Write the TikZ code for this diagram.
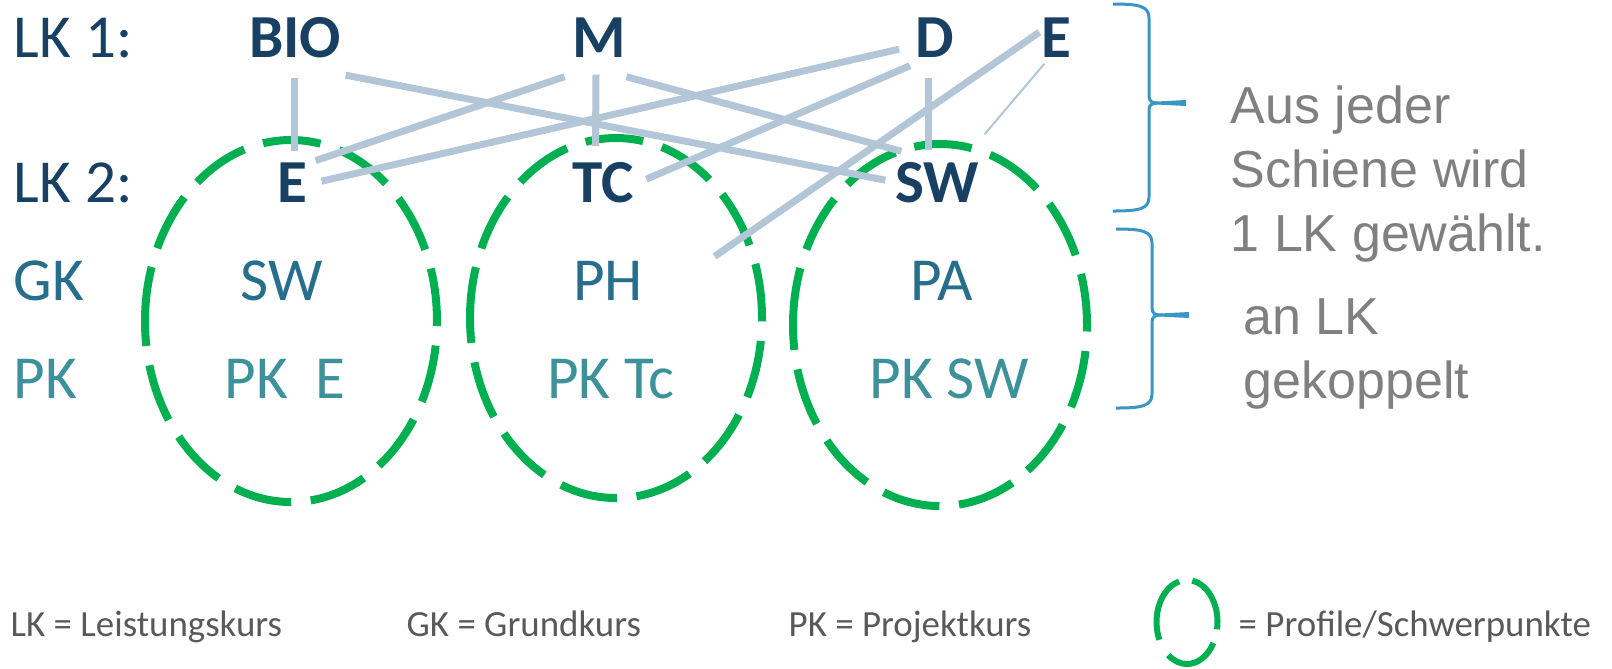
\documentclass[tikz,border=0pt]{standalone}
\usepackage{fontspec}
\setmainfont{Carlito}
\newfontfamily\arialfont{Liberation Sans}
\usetikzlibrary{calc}
\definecolor{navy}{RGB}{23,64,99}
\definecolor{gkblau}{RGB}{39,110,140}
\definecolor{pkblau}{RGB}{61,145,155}
\definecolor{liniengrau}{RGB}{178,198,215}
\definecolor{gruen}{RGB}{0,176,80}
\definecolor{klammerblau}{RGB}{58,150,196}
\definecolor{hinweisgrau}{RGB}{128,128,128}
\definecolor{legendgrau}{RGB}{89,89,89}

\begin{document}
\begin{tikzpicture}[x=0.1mm,y=-0.1mm]

\tikzset{
	pics/profil/.style args={#1 and #2}{code={
	\draw[gruen,line width=0.8mm,dash pattern=on 5.8mm off 1.96mm,dash phase=3.3mm]
	(0,0) ++(180:#1 and #2) arc[start angle=180,end angle=-180,x radius=#1,y radius=#2];
	},
	}
	}
        \tikzset{
          pics/klammer/.style args={#1/#2}{code={
            \draw[klammerblau,line width=0.3mm] (-36,-#1) .. controls (-10,-#1) and (0,-#1+2) .. (0,-#1+14)
              -- (0,-7) .. controls (0,-2) and (3,0) .. (8,0)
              .. controls (3,0) and (0,2) .. (0,7) -- (0,#2-14)
              .. controls (0,#2-2) and (-10,#2) .. (-36,#2);
            \fill[klammerblau] (6,-1.4) -- (37,-3) -- (37,3) -- (6,1.4) -- cycle;
            },
          }
        }
          \tikzset{
            txt/.style={inner sep=0,anchor=base,font=\fontsize{17.4}{21}\selectfont},
            kopf/.style={txt,text=navy,font=\fontsize{17.4}{21}\selectfont\bfseries},
            gkfach/.style={txt,text=gkblau},
            pkfach/.style={txt,text=pkblau},
            zeile/.style={txt,anchor=base west,text=navy},
            linie/.style={draw=liniengrau,line width=0.7mm},
            hinweis/.style={inner sep=0,anchor=base west,align=left,text=hinweisgrau,
              font=\arialfont\fontsize{14.8}{18.2}\selectfont},
            legende/.style={inner sep=0,anchor=base west,text=legendgrau,font=\fontsize{10.5}{12}\selectfont},
          }
        \useasboundingbox (0,0) rectangle (1612,668);

        %PROFILE
        \draw (291,321) pic {profil={146 and 181}};
        \draw (616,318) pic {profil={146 and 180}};
        \draw (940,325) pic {profil={147 and 181}};

        %ZEILEN
        \node[zeile] (lk1) at (13,57) {LK 1:};
        \node[zeile] (lk2) at (13,202) {LK 2:};
        \node[zeile,text=gkblau] (gk) at (13,300) {GK};
        \node[zeile,text=pkblau] (pk) at (13,398) {PK};

        \node[kopf] (bio) at (295,57) {BIO};
        \node[kopf] (m) at (599,57) {M};
        \node[kopf] (d) at (935,57) {D};
        \node[kopf] (e1) at (1056,57) {E};
        \node[kopf] (e2) at (292,202) {E};
        \node[kopf] (tc) at (603,202) {TC};
        \node[kopf] (sw) at (937,202) {SW};
        \node[gkfach] (sw3) at (282,300) {SW};
        \node[gkfach] (ph) at (608,300) {PH};
        \node[gkfach] (pa) at (942,300) {PA};
        \node[pkfach] (pke) at (285,398) {PK\ \ E};
        \node[pkfach] (pktc) at (611,398) {PK Tc};
        \node[pkfach] (pksw) at (949,398) {PK SW};

        %VERBINDUNGEN
        \draw[linie] ($(bio.south)+(-1,20)$) -- ($(e2.north)+(2,-11)$);
        \draw[linie] ($(bio.south east)+(4,17)$) -- ($(sw.west)+(-9,-2)$);
        \draw[linie] ($(m.south west)+(-7,19)$) -- ($(e2.north east)+(8,-1)$);
        \draw[linie] ($(m.south)+(-3,17)$) -- ($(tc.north)+(-7.5,-15)$);
        \draw[linie] ($(d.west)+(-16,12)$) -- ($(e2.east)+(14,-1)$);
        \draw[linie] ($(m.south east)+(0,19)$) -- ($(sw.north west)+(7,-10)$);
        \draw[linie] ($(tc.east)+(12,-3)$) -- ($(d.south west)+(-5,8)$);
        \draw[linie] ($(e1.west)+(-1,-5)$) -- ($(ph.east)+(71,-24)$);
        \draw[linie] ($(d.south)+(-6.5,20)$) -- ($(sw.north)+(-8.5,-11)$);
        \draw[linie,line width=0.2mm] ($(e1.south west)+(4,6)$) -- ($(sw.north east)+(5,-27)$);

        %KLAMMERN
        \draw (1149,103) pic {klammer={99/108}};
        \draw (1152,315) pic {klammer={86/93}};
        \node[hinweis] (aus) at (1230,251) {Aus jeder\\Schiene wird\\1 LK gewählt.};
        \node[hinweis] (an) at (1243,398) {an LK\\gekoppelt};

        %LEGENDE
        \node[legende] (leglk) at (10,636) {LK = Leistungskurs};
        \node[legende] (leggk) at (406,636) {GK = Grundkurs};
        \node[legende] (legpk) at (788,636) {PK = Projektkurs};
        \node[legende] (legprof) at (1238,636) {= Profile/Schwerpunkte};
        \foreach \a/\b in {280/370,30/128,155/255}
          \draw[gruen,line width=0.6mm] (1187,622) ++(\a:30.5 and 42) arc[start angle=\a,end angle=\b,x radius=30.5,y radius=42];
    \end{tikzpicture}
\end{document}
